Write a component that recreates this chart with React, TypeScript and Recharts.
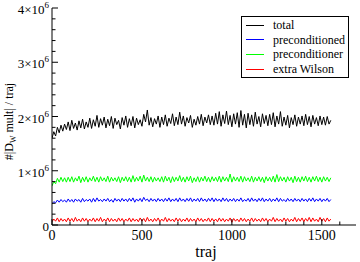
import React from 'react';
import { LineChart, Line, XAxis, YAxis, Legend } from 'recharts';

const FONT = '"Liberation Serif", Tinos, "Times New Roman", serif';

// trajectory index step between samples
const TRAJ_STEP = 10;

// values in units of 10^6
const TOTAL = [
  1.60, 1.72, 1.64, 1.80, 1.70, 1.84, 1.73, 1.86, 1.76, 1.90,
  1.74, 1.93, 1.78, 1.88, 1.75, 1.92, 1.79, 1.95, 1.77, 1.90,
  1.80, 1.97, 1.78, 1.94, 1.82, 2.02, 1.80, 1.96, 1.84, 1.99,
  1.79, 1.95, 1.83, 2.00, 1.78, 1.97, 1.85, 1.93, 1.77, 1.98,
  1.84, 2.01, 1.80, 1.96, 1.83, 2.00, 1.79, 1.97, 1.85, 1.94,
  1.82, 2.04, 1.90, 2.12, 1.84, 1.98, 1.81, 1.96, 1.86, 2.01,
  1.80, 1.99, 1.85, 2.03, 1.82, 1.97, 1.87, 2.05, 1.83, 1.99,
  1.85, 2.08, 1.86, 2.01, 1.82, 1.98, 1.88, 2.02, 1.80, 1.95,
  1.84, 2.00, 1.86, 2.04, 1.83, 1.99, 1.88, 2.03, 1.85, 2.01,
  1.84, 2.06, 1.86, 2.09, 1.82, 2.03, 1.87, 2.10, 1.85, 2.02,
  1.81, 2.05, 1.86, 2.07, 1.80, 2.11, 1.84, 2.04, 1.79, 2.06,
  1.85, 2.03, 1.82, 2.08, 1.86, 2.00, 1.81, 2.05, 1.87, 2.02,
  1.83, 2.04, 1.85, 2.07, 1.81, 2.01, 1.86, 2.09, 1.82, 1.99,
  1.84, 2.02, 1.79, 1.98, 1.85, 2.03, 1.82, 1.99, 1.86, 2.01,
  1.83, 2.04, 1.85, 2.00, 1.81, 2.02, 1.86, 1.98, 1.83, 2.01,
  1.85, 1.99, 1.84, 2.00, 1.86, 1.93,
];

const PRECONDITIONED = [
  0.39, 0.43, 0.41, 0.46, 0.42, 0.47, 0.43, 0.46, 0.42, 0.48,
  0.43, 0.47, 0.42, 0.48, 0.44, 0.47, 0.42, 0.49, 0.43, 0.47,
  0.44, 0.48, 0.42, 0.49, 0.43, 0.50, 0.44, 0.47, 0.43, 0.48,
  0.44, 0.49, 0.43, 0.47, 0.42, 0.49, 0.44, 0.48, 0.43, 0.49,
  0.44, 0.48, 0.43, 0.49, 0.44, 0.50, 0.42, 0.48, 0.44, 0.49,
  0.43, 0.51, 0.45, 0.48, 0.43, 0.49, 0.44, 0.48, 0.43, 0.49,
  0.44, 0.48, 0.43, 0.49, 0.44, 0.50, 0.43, 0.48, 0.44, 0.49,
  0.43, 0.50, 0.44, 0.48, 0.43, 0.49, 0.44, 0.50, 0.43, 0.48,
  0.44, 0.49, 0.43, 0.50, 0.44, 0.48, 0.43, 0.49, 0.44, 0.50,
  0.43, 0.49, 0.44, 0.48, 0.43, 0.50, 0.44, 0.49, 0.43, 0.48,
  0.44, 0.49, 0.43, 0.48, 0.44, 0.50, 0.43, 0.47, 0.44, 0.49,
  0.43, 0.50, 0.44, 0.48, 0.43, 0.49, 0.44, 0.50, 0.43, 0.48,
  0.44, 0.49, 0.43, 0.48, 0.44, 0.50, 0.43, 0.49, 0.44, 0.47,
  0.43, 0.49, 0.44, 0.48, 0.43, 0.49, 0.44, 0.48, 0.43, 0.49,
  0.44, 0.48, 0.43, 0.49, 0.44, 0.50, 0.43, 0.48, 0.44, 0.49,
  0.43, 0.48, 0.44, 0.49, 0.43, 0.47,
];

const PRECONDITIONER = [
  0.72, 0.80, 0.76, 0.86, 0.79, 0.88, 0.80, 0.87, 0.79, 0.88,
  0.80, 0.89, 0.79, 0.87, 0.81, 0.90, 0.78, 0.88, 0.80, 0.89,
  0.79, 0.87, 0.81, 0.90, 0.80, 0.88, 0.79, 0.89, 0.81, 0.87,
  0.80, 0.90, 0.79, 0.88, 0.81, 0.87, 0.80, 0.89, 0.78, 0.88,
  0.81, 0.89, 0.80, 0.88, 0.79, 0.91, 0.80, 0.88, 0.81, 0.90,
  0.79, 0.92, 0.81, 0.88, 0.80, 0.89, 0.79, 0.88, 0.81, 0.87,
  0.80, 0.89, 0.79, 0.90, 0.81, 0.88, 0.78, 0.89, 0.80, 0.88,
  0.81, 0.91, 0.80, 0.88, 0.79, 0.89, 0.81, 0.90, 0.78, 0.87,
  0.80, 0.89, 0.79, 0.88, 0.81, 0.90, 0.80, 0.88, 0.79, 0.89,
  0.81, 0.88, 0.80, 0.90, 0.79, 0.89, 0.81, 0.88, 0.80, 0.94,
  0.79, 0.89, 0.81, 0.88, 0.80, 0.90, 0.79, 0.89, 0.81, 0.87,
  0.80, 0.90, 0.79, 0.88, 0.81, 0.89, 0.80, 0.88, 0.78, 0.89,
  0.81, 0.88, 0.80, 0.90, 0.79, 0.93, 0.80, 0.89, 0.81, 0.88,
  0.79, 0.89, 0.81, 0.88, 0.78, 0.90, 0.80, 0.88, 0.79, 0.89,
  0.81, 0.90, 0.80, 0.88, 0.79, 0.89, 0.81, 0.90, 0.80, 0.88,
  0.79, 0.89, 0.81, 0.88, 0.80, 0.87,
];

const EXTRA_WILSON = [
  0.06, 0.11, 0.07, 0.13, 0.06, 0.12, 0.07, 0.11, 0.06, 0.13,
  0.07, 0.12, 0.06, 0.14, 0.07, 0.11, 0.06, 0.13, 0.07, 0.12,
  0.06, 0.11, 0.07, 0.13, 0.06, 0.12, 0.07, 0.14, 0.06, 0.11,
  0.07, 0.13, 0.06, 0.12, 0.07, 0.11, 0.06, 0.13, 0.07, 0.12,
  0.06, 0.11, 0.07, 0.13, 0.06, 0.12, 0.07, 0.11, 0.06, 0.13,
  0.07, 0.12, 0.06, 0.14, 0.07, 0.11, 0.06, 0.12, 0.07, 0.13,
  0.06, 0.11, 0.07, 0.14, 0.06, 0.12, 0.07, 0.11, 0.06, 0.13,
  0.07, 0.12, 0.06, 0.11, 0.07, 0.13, 0.06, 0.12, 0.07, 0.11,
  0.06, 0.13, 0.07, 0.12, 0.06, 0.11, 0.07, 0.13, 0.06, 0.12,
  0.07, 0.11, 0.06, 0.13, 0.07, 0.12, 0.06, 0.11, 0.07, 0.13,
  0.05, 0.12, 0.07, 0.11, 0.06, 0.13, 0.07, 0.12, 0.06, 0.11,
  0.07, 0.13, 0.06, 0.12, 0.07, 0.11, 0.06, 0.13, 0.07, 0.12,
  0.06, 0.11, 0.07, 0.14, 0.06, 0.12, 0.07, 0.11, 0.06, 0.13,
  0.07, 0.12, 0.06, 0.11, 0.07, 0.14, 0.06, 0.12, 0.07, 0.13,
  0.06, 0.12, 0.07, 0.14, 0.06, 0.13, 0.07, 0.11, 0.06, 0.14,
  0.07, 0.12, 0.06, 0.13, 0.07, 0.11,
];

const SERIES_ORDER = ['total', 'preconditioned', 'preconditioner', 'extra Wilson'];
const X_TICKS = [0, 100, 200, 300, 400, 500, 600, 700, 800, 900, 1000, 1100, 1200, 1300, 1400, 1500, 1600];
const X_LABELED = [0, 500, 1000, 1500];
const Y_TICKS = [0, 0.2, 0.4, 0.6, 0.8, 1, 1.2, 1.4, 1.6, 1.8, 2, 2.2, 2.4, 2.6, 2.8, 3, 3.2, 3.4, 3.6, 3.8, 4];

const data = TOTAL.map((t, i) => ({
  traj: i * TRAJ_STEP,
  total: t,
  preconditioned: PRECONDITIONED[i],
  preconditioner: PRECONDITIONER[i],
  extraWilson: EXTRA_WILSON[i],
}));

const MAJOR = 6;
const MINOR = 3.5;

const XTickBottom = (props: any) => {
  const { x, y, payload } = props;
  const v = payload.value;
  const major = X_LABELED.includes(v);
  return (
    <g>
      <line x1={x} x2={x} y1={y} y2={y - (major ? MAJOR : MINOR)} stroke="#000" strokeWidth={1} />
      {major && (
        <text x={x} y={y + 15} textAnchor="middle" style={{ fontFamily: FONT }} fontSize={14} fill="#000">
          {v}
        </text>
      )}
    </g>
  );
};

const XTickTop = (props: any) => {
  const { x, y, payload } = props;
  const major = X_LABELED.includes(payload.value);
  return <line x1={x} x2={x} y1={y} y2={y + (major ? MAJOR : MINOR)} stroke="#000" strokeWidth={1} />;
};

const YTickLeft = (props: any) => {
  const { x, y, payload } = props;
  const v = payload.value;
  const major = Number.isInteger(v);
  return (
    <g>
      <line x1={x} x2={x + (major ? MAJOR : MINOR)} y1={y} y2={y} stroke="#000" strokeWidth={1} />
      {major && (
        <text x={x - 3} y={y + 6} textAnchor="end" style={{ fontFamily: FONT }} fontSize={13} fill="#000">
          {v === 0 ? (
            '0'
          ) : (
            <>
              <tspan>{`${v}×10`}</tspan>
              <tspan dy={-6} fontSize={9}>6</tspan>
            </>
          )}
        </text>
      )}
    </g>
  );
};

const YTickRight = (props: any) => {
  const { x, y, payload } = props;
  const major = Number.isInteger(payload.value);
  return <line x1={x} x2={x - (major ? MAJOR : MINOR)} y1={y} y2={y} stroke="#000" strokeWidth={1} />;
};

const YLabel = (props: any) => {
  const vb = props.viewBox || { x: 0, y: 8, width: 52, height: 217 };
  const cx = 13;
  const cy = vb.y + vb.height / 2 + 5;
  return (
    <text
      x={cx}
      y={cy}
      transform={`rotate(-90 ${cx} ${cy})`}
      textAnchor="middle"
      style={{ fontFamily: FONT }}
      fontSize={12}
      fill="#000"
    >
      <tspan>#|D</tspan>
      <tspan dy={3} fontSize={8}>W</tspan>
      <tspan dy={-3}> mult| / traj</tspan>
    </text>
  );
};

const XLabel = (props: any) => {
  const vb = props.viewBox || { x: 52, y: 225, width: 304, height: 37 };
  return (
    <text x={vb.x + vb.width / 2 + 2} y={257} textAnchor="middle" style={{ fontFamily: FONT }} fontSize={16} fill="#000">
      traj
    </text>
  );
};

const LegendBox = (props: any) => {
  const payload = [...(props.payload || [])].sort(
    (a: any, b: any) => SERIES_ORDER.indexOf(a.value) - SERIES_ORDER.indexOf(b.value)
  );
  return (
    <div
      style={{
        border: '1px solid #000',
        background: '#fff',
        width: 108,
        height: 62,
        boxSizing: 'border-box',
        paddingTop: 1,
        fontFamily: FONT,
        fontSize: 12,
        color: '#000',
      }}
    >
      {payload.map((p: any) => (
        <div key={p.value} style={{ height: 14.6, display: 'flex', alignItems: 'center', whiteSpace: 'nowrap' }}>
          <span style={{ display: 'inline-block', width: 18, height: 1, background: p.color, marginLeft: 4, marginRight: 9 }} />
          <span style={{ lineHeight: '14.6px' }}>{p.value}</span>
        </div>
      ))}
    </div>
  );
};

export default function App() {
  return (
    <div style={{ position: 'absolute', left: 0, top: 0, width: 360, height: 262, background: '#fff', fontFamily: FONT }}>
      <LineChart width={360} height={262} data={data} margin={{ top: 8, right: 4, bottom: 0, left: 0 }}>
        <XAxis
          xAxisId="b"
          dataKey="traj"
          type="number"
          domain={[0, 1690]}
          ticks={X_TICKS}
          interval={0}
          allowDataOverflow
          height={37}
          tickSize={0}
          tickMargin={0}
          tickLine={false}
          axisLine={{ stroke: '#000', strokeWidth: 1 }}
          tick={<XTickBottom />}
          label={<XLabel />}
        />
        <XAxis
          xAxisId="t"
          orientation="top"
          dataKey="traj"
          type="number"
          domain={[0, 1690]}
          ticks={X_TICKS}
          interval={0}
          allowDataOverflow
          height={0}
          tickSize={0}
          tickMargin={0}
          tickLine={false}
          axisLine={{ stroke: '#000', strokeWidth: 1 }}
          tick={<XTickTop />}
        />
        <YAxis
          yAxisId="l"
          type="number"
          domain={[0, 4]}
          ticks={Y_TICKS}
          interval={0}
          allowDataOverflow
          width={52}
          tickSize={0}
          tickMargin={0}
          tickLine={false}
          axisLine={{ stroke: '#000', strokeWidth: 1 }}
          tick={<YTickLeft />}
          label={<YLabel />}
        />
        <YAxis
          yAxisId="r"
          orientation="right"
          type="number"
          domain={[0, 4]}
          ticks={Y_TICKS}
          interval={0}
          allowDataOverflow
          width={0}
          tickSize={0}
          tickMargin={0}
          tickLine={false}
          axisLine={{ stroke: '#000', strokeWidth: 1 }}
          tick={<YTickRight />}
        />
        <Legend
          layout="vertical"
          align="center"
          verticalAlign="middle"
          content={<LegendBox />}
          wrapperStyle={{ left: 241, top: 16, right: 'auto', bottom: 'auto', width: 108, height: 62 }}
        />
        <Line xAxisId="b" yAxisId="l" type="linear" dataKey="total" name="total" stroke="#000000" strokeWidth={1} dot={false} isAnimationActive={false} />
        <Line xAxisId="b" yAxisId="l" type="linear" dataKey="preconditioned" name="preconditioned" stroke="#0000ff" strokeWidth={1} dot={false} isAnimationActive={false} />
        <Line xAxisId="b" yAxisId="l" type="linear" dataKey="preconditioner" name="preconditioner" stroke="#00ff00" strokeWidth={1} dot={false} isAnimationActive={false} />
        <Line xAxisId="b" yAxisId="l" type="linear" dataKey="extraWilson" name="extra Wilson" stroke="#ff0000" strokeWidth={1} dot={false} isAnimationActive={false} />
      </LineChart>
    </div>
  );
}
